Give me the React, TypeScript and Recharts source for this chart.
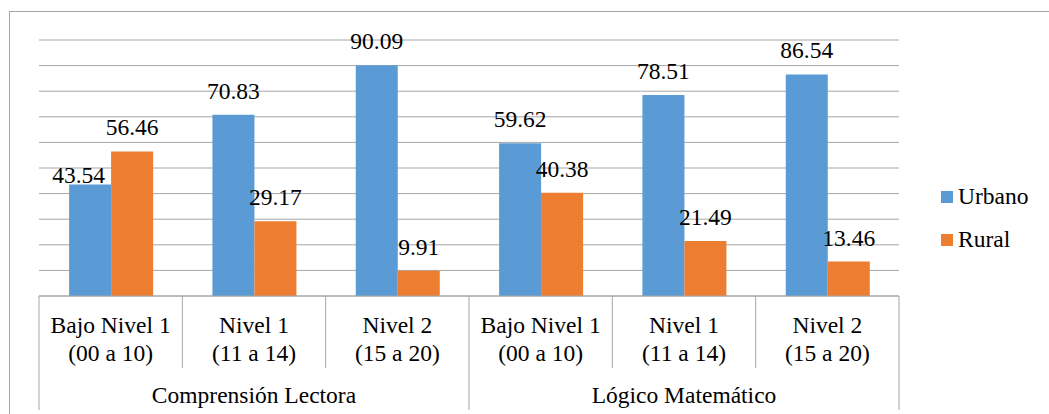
import { BarChart, Bar, XAxis, YAxis, CartesianGrid, LabelList } from 'recharts';

const groups = ['Comprensión Lectora', 'Comprensión Lectora', 'Comprensión Lectora', 'Lógico Matemático', 'Lógico Matemático', 'Lógico Matemático'];
const levels = ['Bajo Nivel 1', 'Nivel 1', 'Nivel 2', 'Bajo Nivel 1', 'Nivel 1', 'Nivel 2'];
const ranges = ['(00 a 10)', '(11 a 14)', '(15 a 20)', '(00 a 10)', '(11 a 14)', '(15 a 20)'];
const urbano = [43.54, 70.83, 90.09, 59.62, 78.51, 86.54];
const rural = [56.46, 29.17, 9.91, 40.38, 21.49, 13.46];
const yTicks = [0, 10, 20, 30, 40, 50, 60, 70, 80, 90, 100];

const BLUE = '#5B9BD5';
const ORANGE = '#ED7D31';
const GRID = '#A6A6A6';
const FONT = "'Liberation Serif', 'Times New Roman', serif";
const FS = 23.5;

const W = 1049;
const H = 414;
const M = { top: 40, right: 150, left: 39, bottom: 0 };
const AXIS_H = 118;
const HALF_BAND = (W - M.left - M.right) / levels.length / 2;

const data = levels.map((lv, i) => ({
  key: `c${i}`,
  urbano: urbano[i],
  rural: rural[i],
}));

function CategoryTick(props: any) {
  const { x, y, index } = props;
  const left = x - HALF_BAND;
  const groupStart = index % 3 === 0;
  const last = index === levels.length - 1;
  return (
    <g>
      <line x1={left} x2={left} y1={y} y2={groupStart ? y + 114 : y + 72} stroke={GRID} />
      {last && <line x1={x + HALF_BAND} x2={x + HALF_BAND} y1={y} y2={y + 114} stroke={GRID} />}
      <text x={x} y={y + 37} textAnchor="middle" fontFamily={FONT} fontSize={FS} fill="#000">
        {levels[index]}
      </text>
      <text x={x} y={y + 65} textAnchor="middle" fontFamily={FONT} fontSize={FS} fill="#000">
        {ranges[index]}
      </text>
      {index % 3 === 1 && (
        <text x={x} y={y + 107} textAnchor="middle" fontFamily={FONT} fontSize={FS} fill="#000">
          {groups[index]}
        </text>
      )}
    </g>
  );
}

function makeLabel(series: 'urbano' | 'rural') {
  return (props: any) => {
    const { x, y, width, value, index } = props;
    // Excel moves the label aside when it would sit on a taller neighbour bar
    const clash = series === 'urbano' && rural[index] > urbano[index];
    const tx = clash ? x + width - 6 : x + width / 2;
    const ty = clash ? y - 2 : y - 16;
    return (
      <text x={tx} y={ty} textAnchor={clash ? 'end' : 'middle'} fontFamily={FONT} fontSize={FS} fill="#000">
        {Number(value).toFixed(2)}
      </text>
    );
  };
}

function LegendBox() {
  const items = [
    { name: 'Urbano', color: BLUE },
    { name: 'Rural', color: ORANGE },
  ];
  return (
    <div style={{ position: 'absolute', left: 941, top: 175, fontFamily: FONT, fontSize: FS, color: '#000' }}>
      {items.map((it) => (
        <div key={it.name} style={{ height: 43, display: 'flex', alignItems: 'center' }}>
          <span style={{ width: 12, height: 12, background: it.color, display: 'inline-block', marginRight: 5 }} />
          <span style={{ lineHeight: 1 }}>{it.name}</span>
        </div>
      ))}
    </div>
  );
}

export default function App() {
  return (
    <div style={{ position: 'absolute', left: 0, top: 0, width: W, height: H, overflow: 'hidden', background: '#fff', fontFamily: FONT }}>
      <div
        style={{
          position: 'absolute',
          left: 9,
          top: 11,
          width: 1200,
          height: 600,
          border: `1px solid ${GRID}`,
          boxSizing: 'border-box',
        }}
      />
      <div style={{ position: 'absolute', left: 0, top: 0 }}>
        <BarChart width={W} height={H} data={data} margin={M} barCategoryGap="21%" barGap={0}>
          <CartesianGrid vertical={false} stroke={GRID} />
          <YAxis hide domain={[0, 100]} ticks={yTicks} />
          <XAxis
            dataKey="key"
            height={AXIS_H}
            interval={0}
            tickLine={false}
            tickSize={0}
            tickMargin={0}
            axisLine={{ stroke: GRID }}
            tick={<CategoryTick />}
          />
          <Bar dataKey="urbano" name="Urbano" fill={BLUE} isAnimationActive={false}>
            <LabelList dataKey="urbano" content={makeLabel('urbano')} />
          </Bar>
          <Bar dataKey="rural" name="Rural" fill={ORANGE} isAnimationActive={false}>
            <LabelList dataKey="rural" content={makeLabel('rural')} />
          </Bar>
        </BarChart>
      </div>
      <LegendBox />
    </div>
  );
}
